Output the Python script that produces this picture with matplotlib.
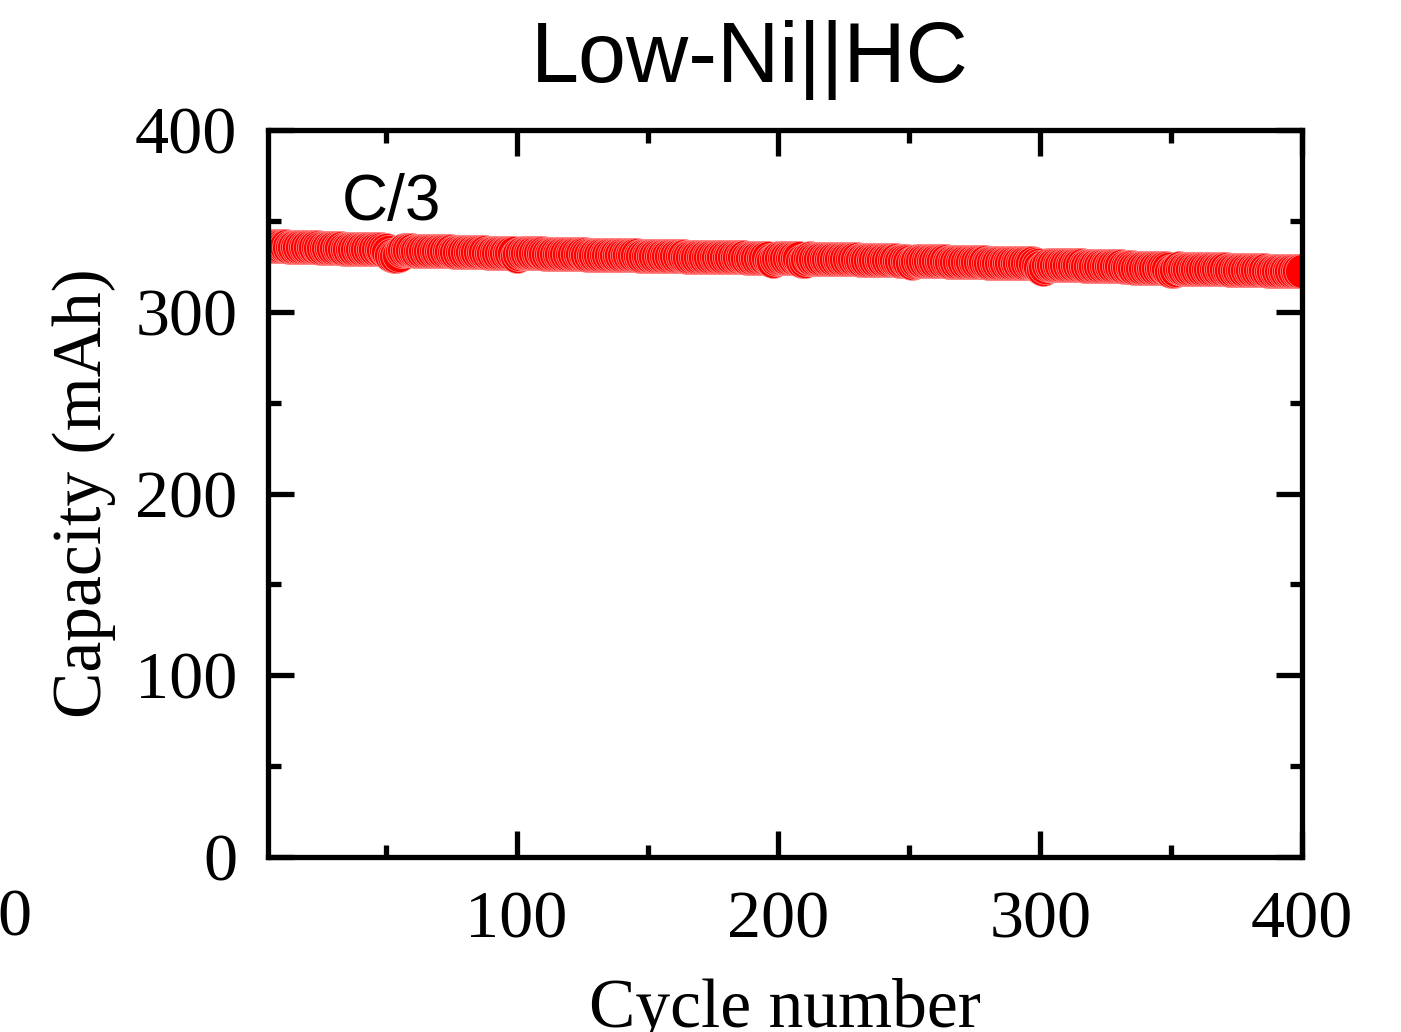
import matplotlib
matplotlib.use("Agg")
import matplotlib.pyplot as plt
from matplotlib.ticker import MultipleLocator

# discharge capacity per cycle (mAh), cycles 1..400
capacity = [
    336.5, 336.5, 336.4, 336.4, 336.3, 336.3, 336.2, 336.2, 336.1, 336.1,
    336.0, 336.0, 335.9, 335.9, 335.8, 335.8, 335.7, 335.7, 335.6, 335.6,
    335.5, 335.5, 335.4, 335.4, 335.3, 335.3, 335.2, 335.2, 335.1, 335.1,
    335.0, 334.9, 334.9, 334.8, 334.8, 334.7, 334.7, 334.6, 334.6, 334.5,
    334.5, 334.5, 334.4, 334.4, 334.4, 334.3, 334.3, 334.3, 334.2, 334.2,
    333.0, 331.5, 330.8, 330.6, 331.4, 333.2, 333.9, 333.9, 333.8, 333.8,
    333.7, 333.7, 333.7, 333.6, 333.6, 333.5, 333.5, 333.5, 333.4, 333.4,
    333.3, 333.3, 333.3, 333.2, 333.2, 333.1, 333.1, 333.1, 333.0, 333.0,
    332.9, 332.9, 332.9, 332.8, 332.8, 332.7, 332.7, 332.7, 332.6, 332.6,
    332.6, 332.5, 332.5, 332.5, 332.4, 332.4, 332.4, 332.4, 332.4, 330.8,
    331.6, 332.3, 332.3, 332.3, 332.2, 332.2, 332.2, 332.1, 332.1, 332.1,
    332.0, 332.0, 332.0, 331.9, 331.9, 331.9, 331.8, 331.8, 331.8, 331.7,
    331.7, 331.7, 331.6, 331.6, 331.6, 331.6, 331.5, 331.5, 331.5, 331.4,
    331.4, 331.4, 331.3, 331.3, 331.3, 331.3, 331.2, 331.2, 331.2, 331.1,
    331.1, 331.1, 331.0, 331.0, 331.0, 331.0, 330.9, 330.9, 330.9, 330.8,
    330.8, 330.8, 330.8, 330.7, 330.7, 330.7, 330.7, 330.6, 330.6, 330.6,
    330.5, 330.5, 330.5, 330.5, 330.4, 330.4, 330.4, 330.4, 330.3, 330.3,
    330.3, 330.2, 330.2, 330.2, 330.2, 330.1, 330.1, 330.1, 330.1, 330.0,
    330.0, 330.0, 330.0, 329.9, 329.9, 329.9, 329.9, 329.8, 329.8, 329.8,
    329.8, 329.7, 329.7, 329.7, 329.7, 329.6, 328.6, 327.8, 328.9, 329.6,
    329.6, 329.6, 329.5, 329.5, 329.5, 329.5, 329.4, 329.4, 328.0, 327.7,
    328.8, 329.4, 329.3, 329.3, 329.3, 329.2, 329.2, 329.2, 329.1, 329.1,
    329.1, 329.0, 329.0, 329.0, 328.9, 328.9, 328.9, 328.8, 328.8, 328.8,
    328.7, 328.7, 328.7, 328.6, 328.6, 328.6, 328.5, 328.5, 328.5, 328.4,
    328.4, 328.4, 328.3, 328.3, 328.3, 328.2, 328.2, 328.2, 328.1, 327.3,
    326.8, 327.6, 328.0, 328.0, 328.0, 327.9, 327.9, 327.9, 327.8, 327.8,
    327.8, 327.7, 327.7, 327.7, 327.6, 327.6, 327.6, 327.5, 327.5, 327.5,
    327.4, 327.4, 327.4, 327.3, 327.3, 327.3, 327.2, 327.2, 327.2, 327.1,
    327.1, 327.1, 327.0, 327.0, 327.0, 326.9, 326.9, 326.9, 326.8, 326.8,
    326.8, 326.7, 326.7, 326.7, 326.6, 326.6, 326.6, 326.5, 326.0, 324.4,
    323.8, 324.6, 325.9, 325.9, 325.8, 325.8, 325.8, 325.7, 325.7, 325.7,
    325.6, 325.6, 325.6, 325.5, 325.5, 325.5, 325.4, 325.4, 325.4, 325.3,
    325.3, 325.3, 325.2, 325.2, 325.2, 325.1, 325.1, 325.1, 325.0, 325.0,
    325.0, 324.9, 324.9, 324.9, 324.4, 324.3, 324.3, 324.3, 324.2, 324.2,
    324.2, 324.1, 324.1, 324.1, 324.0, 324.0, 324.0, 323.9, 323.4, 322.6,
    322.2, 323.2, 323.9, 323.8, 323.8, 323.8, 323.7, 323.7, 323.7, 323.6,
    323.6, 323.6, 323.5, 323.5, 323.5, 323.4, 323.4, 323.4, 323.3, 323.3,
    323.3, 323.2, 323.2, 323.2, 323.1, 323.1, 323.1, 323.0, 323.0, 323.0,
    322.9, 322.9, 322.9, 322.8, 322.8, 322.8, 322.7, 322.7, 322.7, 322.6,
    322.6, 322.6, 322.5, 322.5, 322.5, 322.4, 322.4, 322.3, 322.3, 322.2,
]
cycles = list(range(1, len(capacity) + 1))

x_ticks = [100, 200, 300, 400]
y_ticks = [0, 100, 200, 300, 400]
title = "Low-Ni||HC"
rate_label = "C/3"

serif = ["Liberation Serif", "DejaVu Serif"]
sans = ["Liberation Sans", "DejaVu Sans"]

fig = plt.figure(figsize=(14.01, 10.32), dpi=100)
ax = fig.add_axes([0.1913, 0.1696, 0.738, 0.7044])

ax.plot(cycles, capacity, linestyle="none", marker="o", markersize=24.5,
        markerfacecolor="#ff0000", markeredgecolor="#ff9a9a",
        markeredgewidth=0.5)

ax.set_xlim(5, 400)
ax.set_ylim(0, 400)
ax.set_xticks(x_ticks)
ax.set_yticks(y_ticks)
ax.xaxis.set_minor_locator(MultipleLocator(50))
ax.yaxis.set_minor_locator(MultipleLocator(50))

for s in ax.spines.values():
    s.set_linewidth(3.8)
ax.tick_params(which="both", direction="in", top=True, right=True, width=3.8)
ax.tick_params(which="major", length=19)
ax.tick_params(which="minor", length=9)
ax.tick_params(axis="x", which="major", pad=24)
ax.tick_params(axis="y", which="major", pad=22)
for lbl in ax.get_xticklabels() + ax.get_yticklabels():
    lbl.set_family(serif)
    lbl.set_fontsize(49)

ax.set_xlabel("Cycle number", family=serif, fontsize=50, labelpad=19)
ax.set_ylabel("Capacity (mAh)", family=serif, fontsize=50, labelpad=14)

ax.text(33, 350.5, rate_label, family=sans, fontsize=46, va="baseline")
fig.text(750 / 1401, 1 - 60 / 1032, title, family=sans, fontsize=62,
         ha="center", va="center")
# lone "0" label sitting at the far left edge
fig.text(14 / 1401, 1 - 919 / 1032, "0", family=serif, fontsize=49,
         ha="center", va="center")

fig.savefig("out.png", dpi=100)
